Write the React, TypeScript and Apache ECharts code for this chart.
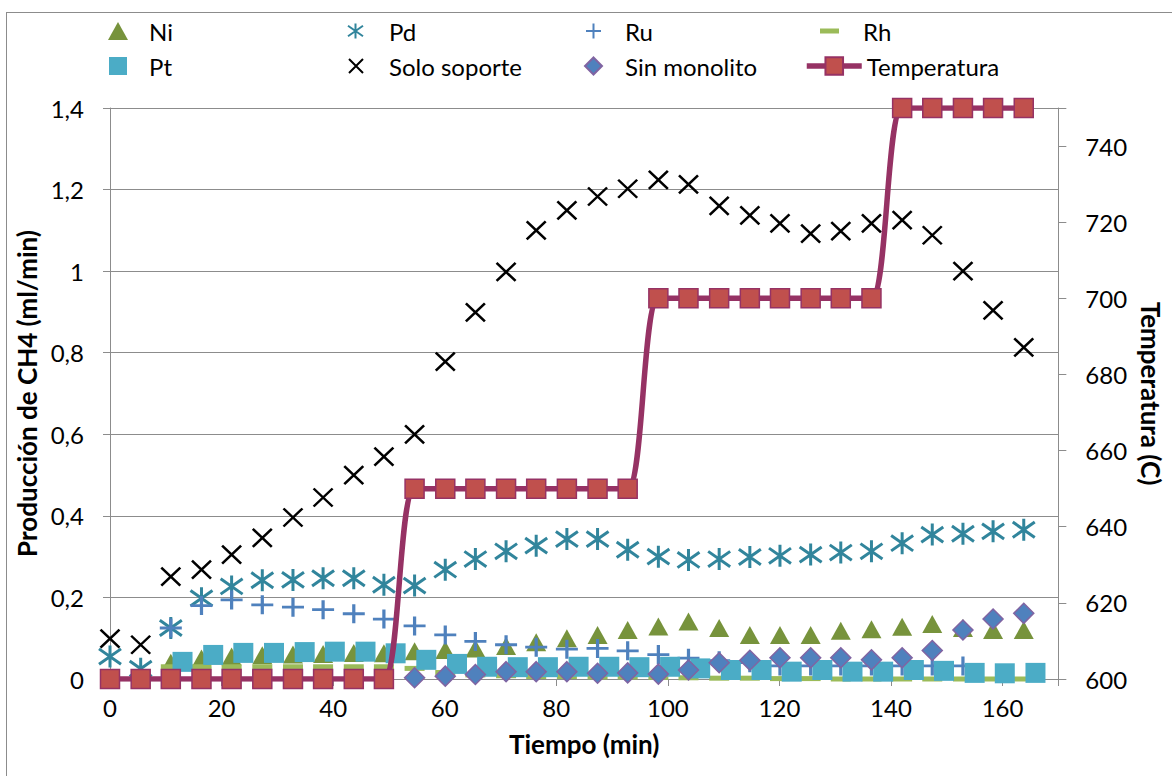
import React, { useEffect, useRef } from 'react';
import * as echarts from 'echarts';

// Tiempos de muestreo (min)
const tiempos = [0, 5.5, 10.9, 16.4, 21.8, 27.3, 32.8, 38.2, 43.7, 49.1, 54.6, 60.1, 65.5, 71.0, 76.4, 81.9, 87.4, 92.8, 98.3, 103.7, 109.2, 114.7, 120.1, 125.6, 131.0, 136.5, 142.0, 147.4, 152.9, 158.3, 163.8];
const tiemposPt = [13.0, 18.5, 23.9, 29.4, 34.9, 40.3, 45.8, 51.2, 56.7, 62.2, 67.6, 73.1, 78.5, 84.0, 89.5, 94.9, 100.4, 105.8, 111.3, 116.8, 122.2, 127.7, 133.1, 138.6, 144.1, 149.5, 155.0, 160.4, 165.9];

// Producción de CH4 (ml/min)
const ni = [0.040, 0.050, 0.055, 0.058, 0.060, 0.061, 0.064, 0.063, 0.068, 0.071, 0.075, 0.081, 0.090, 0.100, 0.108, 0.120, 0.129, 0.141, 0.125, 0.108, 0.108, 0.108, 0.118, 0.122, 0.128, 0.135, 0.125, 0.120, 0.120];
const pd = [0.055, 0.025, 0.125, 0.198, 0.227, 0.242, 0.243, 0.247, 0.247, 0.231, 0.229, 0.268, 0.294, 0.313, 0.327, 0.343, 0.343, 0.317, 0.300, 0.292, 0.294, 0.299, 0.302, 0.305, 0.310, 0.313, 0.333, 0.354, 0.356, 0.362, 0.366];
const ru = [0.125, 0.180, 0.194, 0.182, 0.176, 0.170, 0.160, 0.147, 0.130, 0.108, 0.092, 0.084, 0.078, 0.073, 0.075, 0.069, 0.060, 0.051, 0.045, 0.040, 0.032, 0.032, 0.032, 0.032, 0.032, 0.032, 0.032];
const rh = [0.030, 0.030, 0.030, 0.030, 0.030, 0.030, 0.030, 0.030, 0.026, 0.016, 0.010, 0.008, 0.006, 0.006, 0.005, 0.005, 0.004, 0.003, 0.002, 0.002, 0.001, 0.001, 0, 0, 0, 0, 0, 0, 0];
const pt = [0.042, 0.059, 0.064, 0.064, 0.066, 0.067, 0.067, 0.063, 0.047, 0.037, 0.030, 0.029, 0.029, 0.030, 0.030, 0.029, 0.030, 0.026, 0.022, 0.022, 0.018, 0.022, 0.018, 0.018, 0.022, 0.020, 0.015, 0.014, 0.015];
const soloSoporte = [0.099, 0.084, 0.251, 0.268, 0.305, 0.346, 0.396, 0.445, 0.500, 0.545, 0.600, 0.778, 0.899, 0.998, 1.100, 1.149, 1.183, 1.202, 1.224, 1.213, 1.160, 1.137, 1.117, 1.092, 1.098, 1.117, 1.125, 1.088, 1.000, 0.904, 0.813];
const sinMonolito = [0.003, 0.007, 0.011, 0.018, 0.018, 0.018, 0.014, 0.015, 0.012, 0.022, 0.040, 0.046, 0.052, 0.052, 0.052, 0.047, 0.052, 0.070, 0.120, 0.147, 0.161];

// Temperatura (C)
const temperatura = [600, 600, 600, 600, 600, 600, 600, 600, 600, 600, 650, 650, 650, 650, 650, 650, 650, 650, 700, 700, 700, 700, 700, 700, 700, 700, 750, 750, 750, 750, 750];

const FONT = 'Lato';
const GRIS = '#8c8c8c';

const pares = (xs: number[], ys: number[]) => ys.map((y, i) => [xs[i], y]);

const ASTERISCO = 'path://M1.5,1.5L8.5,8.5M8.5,1.5L1.5,8.5M5,0L5,10';
const CRUZ = 'path://M5,0L5,10M0,5L10,5';
const EQUIS = 'path://M0,0L10,10M10,0L0,10';

const leyenda = (name: string, left: number, top: number, w: number, h: number, pad: number) => ({
  data: [name],
  left,
  top,
  itemWidth: w,
  itemHeight: h,
  padding: 0,
  symbolKeepAspect: false,
  lineStyle: { width: 'inherit' as const },
  textStyle: { fontFamily: FONT, fontSize: 24, color: '#000', padding: [0, 0, 0, pad] },
});

const titulo = { fontFamily: FONT, fontSize: 26, fontWeight: 'bold' as const, color: '#000' };

const App: React.FC = () => {
  const chartRef = useRef<HTMLDivElement>(null);

  useEffect(() => {
    if (!chartRef.current) return;
    const chart = echarts.init(chartRef.current, null, { renderer: 'svg' });

    const option: echarts.EChartsOption = {
      animation: false,
      backgroundColor: '#fff',
      textStyle: { fontFamily: FONT },
      grid: { left: 110, top: 108, right: 113, bottom: 97 },
      legend: [
        leyenda('Ni', 108, 19, 20, 18, 16),
        leyenda('Pd', 347, 19, 15, 15, 21),
        leyenda('Ru', 585, 19, 15, 15, 19),
        leyenda('Rh', 820, 19, 19, 5, 19),
        leyenda('Pt', 109, 54, 18, 18, 17),
        leyenda('Solo soporte', 348, 54, 14, 14, 21),
        leyenda('Sin monolito', 584, 54, 17, 17, 18),
        leyenda('Temperatura', 804, 54, 55, 22, 0),
      ],
      graphic: [
        { type: 'line', shape: { x1: 6, y1: 12.5, x2: 1172, y2: 12.5 }, style: { stroke: GRIS, lineWidth: 1 } },
        { type: 'line', shape: { x1: 6.5, y1: 12, x2: 6.5, y2: 776 }, style: { stroke: GRIS, lineWidth: 1 } },
      ],
      xAxis: {
        type: 'value',
        min: 0,
        max: 170,
        interval: 20,
        name: 'Tiempo (min)',
        nameLocation: 'middle',
        nameGap: 52,
        nameTextStyle: titulo,
        axisLine: { show: true, lineStyle: { color: GRIS } },
        axisTick: { show: true, length: 7, lineStyle: { color: GRIS } },
        axisLabel: {
          fontFamily: FONT,
          fontSize: 24,
          color: '#000',
          margin: 16,
          formatter: (v: number) => (v > 160 ? '' : String(v)),
        },
        splitLine: { show: false },
      },
      yAxis: [
        {
          type: 'value',
          min: 0,
          max: 1.4,
          interval: 0.2,
          name: 'Producción de CH4 (ml/min)',
          nameLocation: 'middle',
          nameGap: 64,
          nameTextStyle: titulo,
          axisLine: { show: true, lineStyle: { color: GRIS } },
          axisTick: { show: true, length: 7, lineStyle: { color: GRIS } },
          axisLabel: {
            fontFamily: FONT,
            fontSize: 24,
            color: '#000',
            margin: 26,
            formatter: (v: number) => String(Math.round(v * 10) / 10).replace('.', ','),
          },
          splitLine: { show: true, lineStyle: { color: GRIS } },
        },
        {
          type: 'value',
          position: 'right',
          min: 600,
          max: 750,
          interval: 20,
          name: 'Temperatura (C)',
          nameLocation: 'middle',
          nameRotate: -90,
          nameGap: 78,
          nameTextStyle: titulo,
          axisLine: { show: true, lineStyle: { color: GRIS } },
          axisTick: { show: true, length: 8, lineStyle: { color: GRIS } },
          axisLabel: {
            fontFamily: FONT,
            fontSize: 24,
            color: '#000',
            margin: 27,
            formatter: (v: number) => (v > 740 ? '' : String(v)),
          },
          splitLine: { show: false },
        },
      ],
      series: [
        {
          name: 'Ni',
          type: 'scatter',
          data: pares(tiempos.slice(2), ni),
          symbol: 'triangle',
          symbolSize: [20, 18],
          itemStyle: { color: '#77933C', opacity: 1 },
        },
        {
          name: 'Pd',
          type: 'scatter',
          data: pares(tiempos, pd),
          symbol: ASTERISCO,
          symbolSize: 22,
          itemStyle: { color: 'transparent', borderColor: '#31859C', borderWidth: 3, opacity: 1 },
        },
        {
          name: 'Ru',
          type: 'scatter',
          data: pares(tiempos.slice(2), ru),
          symbol: CRUZ,
          symbolSize: [22, 19],
          itemStyle: { color: 'transparent', borderColor: '#4F81BD', borderWidth: 3, opacity: 1 },
        },
        {
          name: 'Rh',
          type: 'scatter',
          data: pares(tiempos.slice(2), rh),
          symbol: 'rect',
          symbolSize: [20, 5],
          itemStyle: { color: '#9BBB59', opacity: 1 },
        },
        {
          name: 'Pt',
          type: 'scatter',
          data: pares(tiemposPt, pt),
          symbol: 'rect',
          symbolSize: 20,
          itemStyle: { color: '#4BACC6', opacity: 1 },
        },
        {
          name: 'Solo soporte',
          type: 'scatter',
          data: pares(tiempos, soloSoporte),
          symbol: EQUIS,
          symbolSize: [19, 18],
          itemStyle: { color: 'transparent', borderColor: '#000', borderWidth: 2.5, opacity: 1 },
        },
        {
          name: 'Sin monolito',
          type: 'scatter',
          data: pares(tiempos.slice(10), sinMonolito),
          symbol: 'diamond',
          symbolSize: 20,
          itemStyle: { color: '#4F81BD', borderColor: '#8064A2', borderWidth: 1.5, opacity: 1 },
        },
        {
          name: 'Temperatura',
          type: 'line',
          yAxisIndex: 1,
          data: pares(tiempos, temperatura),
          smooth: 0.3,
          symbol: 'rect',
          symbolSize: 19,
          showAllSymbol: true,
          lineStyle: { color: '#963264', width: 5.5 },
          itemStyle: { color: '#C0504D', borderColor: '#963264', borderWidth: 1.5 },
        },
      ],
    };

    chart.setOption(option);
    return () => {
      chart.dispose();
    };
  }, []);

  return (
    <div
      ref={chartRef}
      style={{ position: 'fixed', left: 0, top: 0, width: 1172, height: 776, background: '#fff' }}
    />
  );
};

export default App;
